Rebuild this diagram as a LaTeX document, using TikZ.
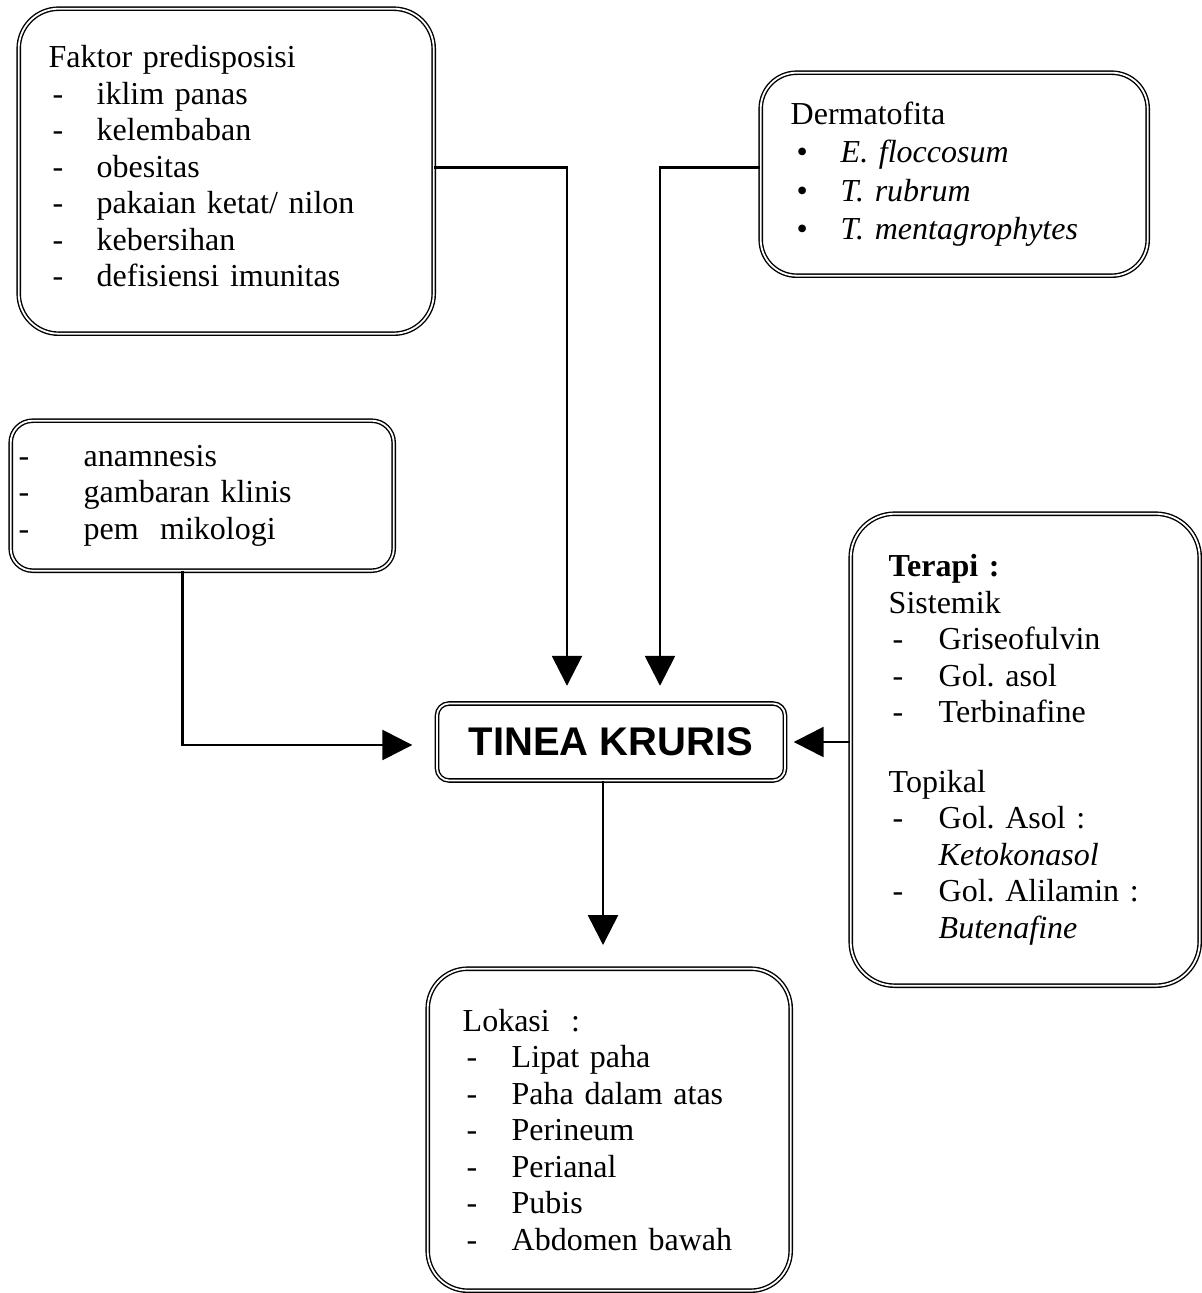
\documentclass[tikz,border=0pt]{standalone}
\usepackage{fontspec}
\setmainfont{Liberation Serif}
\newfontfamily\headfont{Liberation Sans}
\usetikzlibrary{positioning,arrows.meta}
\frenchspacing

\newcommand{\dashitem}[2][24pt]{\makebox[#1][l]{\hspace{2pt}-}#2}
\newcommand{\bulitem}[2][25pt]{\makebox[#1][l]{\hspace{3pt}\textbullet}#2}

\begin{document}
\begin{tikzpicture}[
		x=0.5pt, y=-0.5pt,
		roundbox/.style={draw,double,line width=0.7pt,double distance=0.9pt,align=left,anchor=north west,inner ysep=0pt,font=\fontsize{16pt}{18.25pt}\selectfont},
		arr/.style={line width=1.3pt,-{Triangle[length=15pt,width=15pt]}}
		]
		\useasboundingbox (0,0) rectangle (1201,1293);
		\node[roundbox,rounded corners=20pt,minimum width=207.5pt,minimum height=162.5pt,inner xsep=15pt,text width=177.5pt] (faktor) at (18,8)
		{Faktor predisposisi\\
			\dashitem{iklim panas}\\
			\dashitem{kelembaban}\\
			\dashitem{obesitas}\\
			\dashitem{pakaian ketat/ nilon}\\
			\dashitem{kebersihan}\\
			\dashitem{defisiensi imunitas}\vspace{5pt}};
		\node[roundbox,rounded corners=18pt,minimum width=193.5pt,minimum height=101.5pt,inner xsep=15pt,text width=163.5pt,font=\fontsize{16pt}{19.25pt}\selectfont] (dermato) at (760,72)
		{Dermatofita\\
			\bulitem{\textit{E. floccosum}}\\
			\bulitem{\textit{T. rubrum}}\\
			\bulitem{\textit{T. mentagrophytes}}};
		\node[roundbox,rounded corners=11pt,minimum width=191.5pt,minimum height=75pt,inner xsep=2pt,text width=187.5pt] (diag) at (10,420)
		{\dashitem[34.5pt]{anamnesis}\\
			\dashitem[34.5pt]{gambaran klinis}\\
			\dashitem[34.5pt]{pem\ \ mikologi}};
		\node[roundbox,rounded corners=22pt,minimum width=174.5pt,minimum height=236pt,inner xsep=19pt,text width=136.5pt] (terapi) at (850,513)
		{\textbf{Terapi :}\\
			Sistemik\\
			\dashitem[25pt]{Griseofulvin}\\
			\dashitem[25pt]{Gol. asol}\\
			\dashitem[25pt]{Terbinafine}\\[16.5pt]
			Topikal\\
			\dashitem[25pt]{Gol. Asol :}\\
			\hspace*{25pt}\textit{Ketokonasol}\\
			\dashitem[25pt]{Gol. Alilamin :}\\
			\hspace*{25pt}\textit{Butenafine}};
		\node[roundbox,anchor=center,align=center,rounded corners=6pt,minimum width=174pt,minimum height=38.5pt,font=\headfont\bfseries\fontsize{20pt}{24pt}\selectfont] (tinea) at (611,742) {TINEA KRURIS};
		\node[roundbox,rounded corners=20pt,minimum width=181.5pt,minimum height=161pt,inner xsep=17.5pt,text width=146.5pt] (lokasi) at (427,968)
		{Lokasi\ \ :\\
			\dashitem[24.5pt]{Lipat paha}\\
			\dashitem[24.5pt]{Paha dalam atas}\\
			\dashitem[24.5pt]{Perineum}\\
			\dashitem[24.5pt]{Perianal}\\
			\dashitem[24.5pt]{Pubis}\\
			\dashitem[24.5pt]{Abdomen bawah}};
		% arrows into the centre box
		\draw[arr,shorten >=8.5pt] ([yshift=1.7pt]faktor.east) -| ([xshift=-22pt]tinea.north);
		\draw[arr,shorten >=8.5pt] ([yshift=3.2pt]dermato.west) -| ([xshift=24.5pt]tinea.north);
		\draw[arr,shorten >=12pt] ([xshift=-9.75pt]diag.south) |- ([yshift=-1.5pt]tinea.west);
		\draw[arr,shorten >=4pt] (terapi.west |- tinea.east) -- (tinea.east);
		\draw[arr,shorten >=11.5pt] ([xshift=-4pt]tinea.south) -- ([xshift=-4pt]tinea.south |- lokasi.north);
	\end{tikzpicture}
\end{document}
